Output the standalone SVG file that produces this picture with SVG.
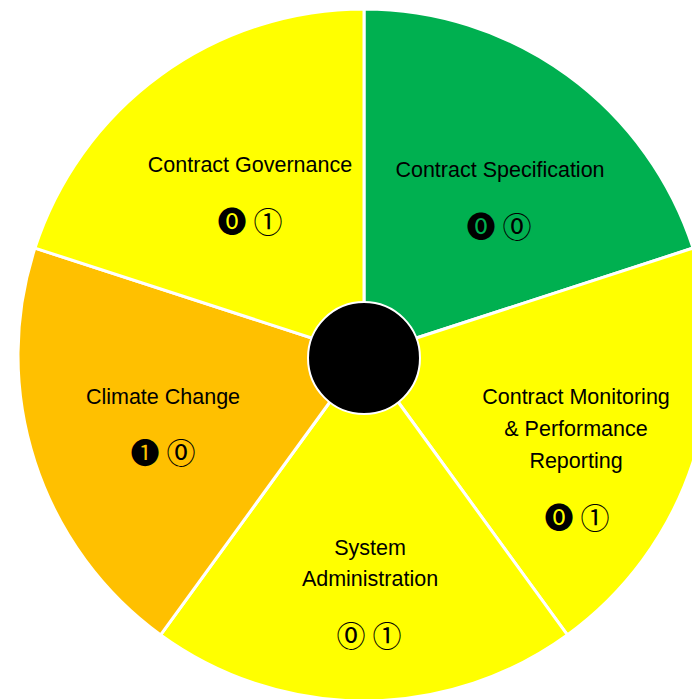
<svg xmlns="http://www.w3.org/2000/svg" width="692" height="699" viewBox="0 0 692 699">
  <style>
    .wedge { stroke: #ffffff; stroke-width: 3; stroke-linejoin: miter; }
    .yellow { fill: #ffff00; }
    .green { fill: #00b050; }
    .orange { fill: #ffc000; }
    .label { font-family: "Liberation Sans", Arial, sans-serif; font-size: 21.5px; fill: #000000; text-anchor: middle; }
    .mark { font-family: "Noto Sans CJK JP", "DejaVu Sans", sans-serif; font-size: 29px; fill: #000000; text-anchor: middle; }
  </style>
  <rect width="692" height="699" fill="#ffffff"/>

  <g id="contract-specification">
    <path class="wedge green" d="M364,355 L364,9 A346,346 0 0 1 693.06,248.08 Z"/>
    <text class="label" x="500" y="177">Contract Specification</text>
    <text class="mark" x="481" y="238">⓿</text>
    <text class="mark" x="517" y="238">⓪</text>
  </g>

  <g id="contract-monitoring">
    <path class="wedge yellow" d="M364,355 L693.06,248.08 A346,346 0 0 1 567.37,634.92 Z"/>
    <text class="label" x="576" y="404">Contract Monitoring</text>
    <text class="label" x="576" y="436">&amp; Performance</text>
    <text class="label" x="576" y="468">Reporting</text>
    <text class="mark" x="559" y="529">⓿</text>
    <text class="mark" x="595" y="529">①</text>
  </g>

  <g id="system-administration">
    <path class="wedge yellow" d="M364,355 L567.37,634.92 A346,346 0 0 1 160.63,634.92 Z"/>
    <text class="label" x="370" y="555">System</text>
    <text class="label" x="370" y="586">Administration</text>
    <text class="mark" x="351" y="647">⓪</text>
    <text class="mark" x="387" y="647">①</text>
  </g>

  <g id="climate-change">
    <path class="wedge orange" d="M364,355 L160.63,634.92 A346,346 0 0 1 34.94,248.08 Z"/>
    <text class="label" x="163" y="404">Climate Change</text>
    <text class="mark" x="145" y="464">❶</text>
    <text class="mark" x="181" y="464">⓪</text>
  </g>

  <g id="contract-governance">
    <path class="wedge yellow" d="M364,355 L34.94,248.08 A346,346 0 0 1 364,9 Z"/>
    <text class="label" x="250" y="172">Contract Governance</text>
    <text class="mark" x="232" y="233">⓿</text>
    <text class="mark" x="268" y="233">①</text>
  </g>

  <g id="hub">
    <circle cx="364" cy="358" r="56" fill="#000000" stroke="#ffffff" stroke-width="2"/>
  </g>

  <g id="connectors"/>
</svg>
